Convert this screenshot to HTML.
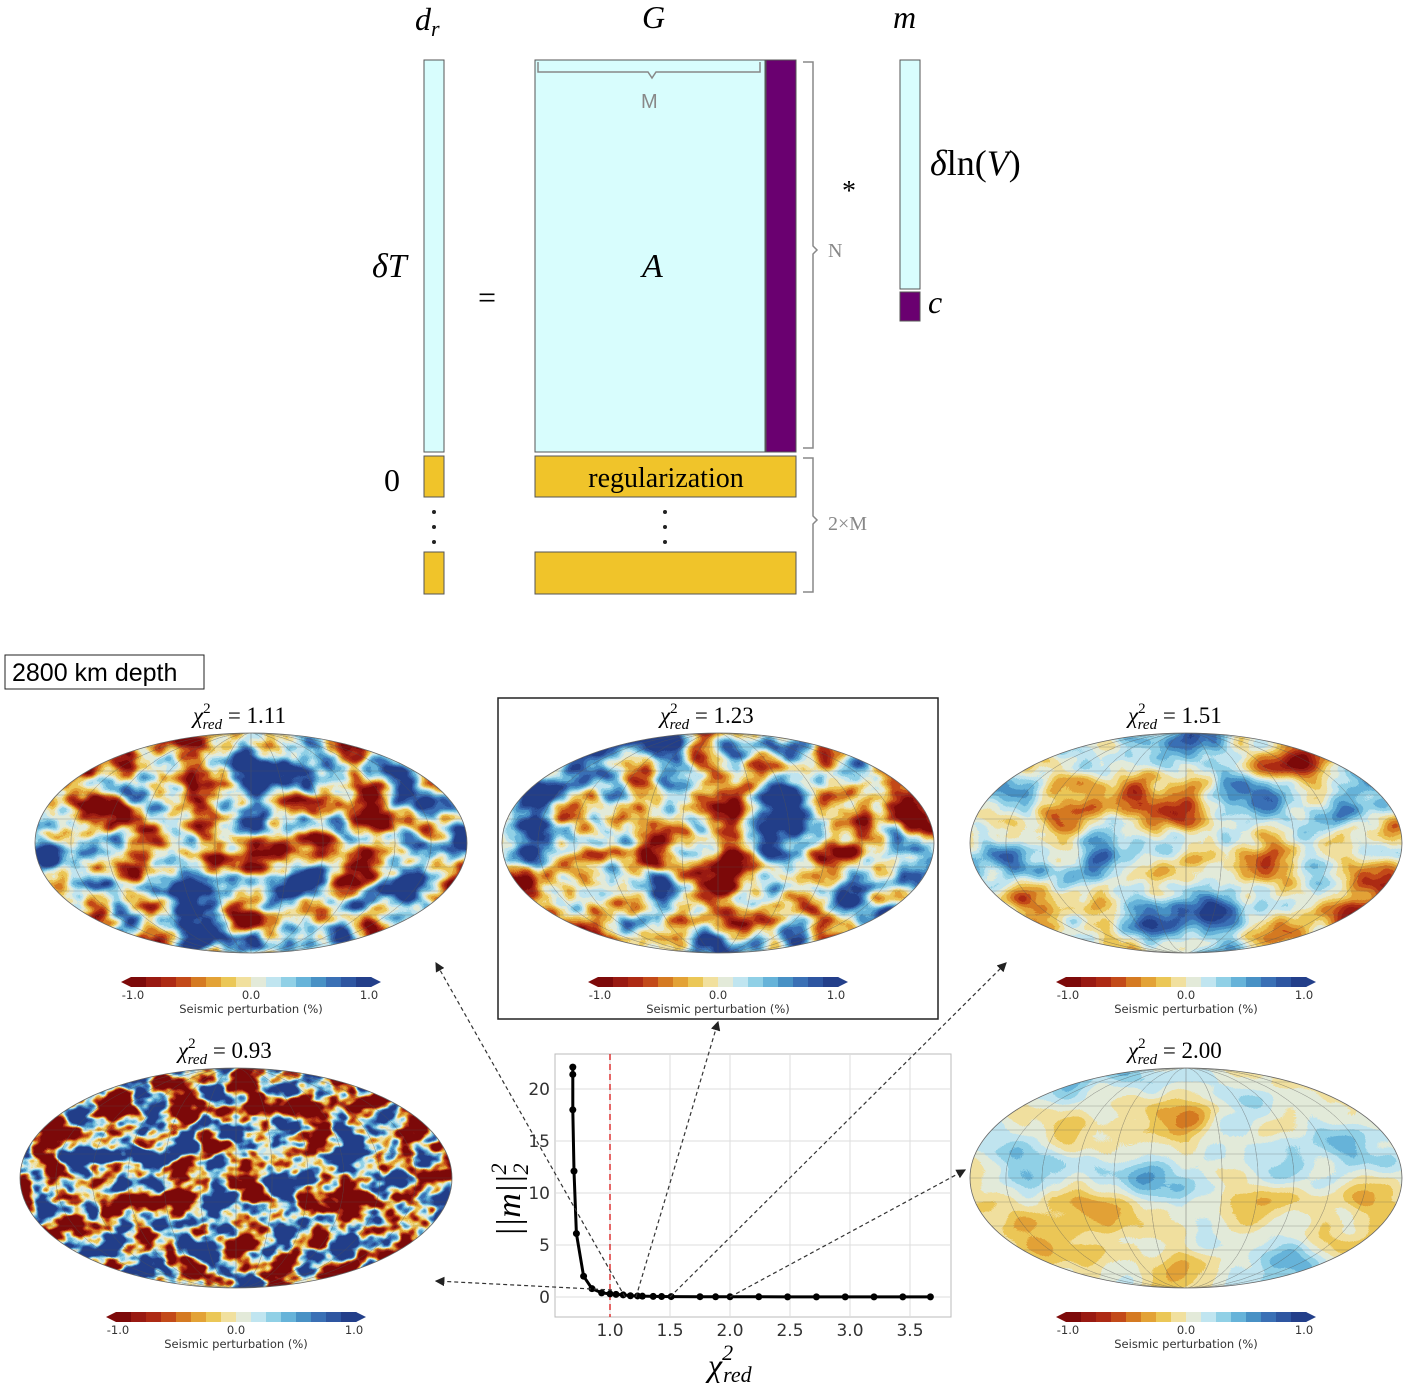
<!DOCTYPE html>
<html><head><meta charset="utf-8">
<style>
body{margin:0;background:#fff;}
#root{position:relative;width:1403px;height:1393px;overflow:hidden;font-family:"Liberation Serif",serif;}
.cb-lbl{font-family:"DejaVu Sans","Liberation Sans",sans-serif;font-size:11.5px;fill:#333;}
</style></head>
<body>
<div id="root">
<svg id="svg" width="1403" height="1393" style="position:absolute;left:0;top:0">
<defs id="defs"></defs>
<g font-family="Liberation Serif, serif" font-style="italic">
  <text x="415" y="30" font-size="32">d<tspan font-size="22" dy="6">r</tspan></text>
  <text x="642" y="28" font-size="32">G</text>
  <text x="893" y="28" font-size="32">m</text>
  <rect x="424" y="60" width="20" height="392" fill="#d8fdfd" stroke="#555"/>
  <text x="372" y="277" font-size="34">δT</text>
  <rect x="424" y="456" width="20" height="41" fill="#f0c42a" stroke="#555"/>
  <rect x="424" y="552" width="20" height="42" fill="#f0c42a" stroke="#555"/>
  <text x="384" y="491" font-size="32" font-style="normal">0</text>
  <text x="478" y="308" font-size="32" font-style="normal">=</text>
  <rect x="535" y="60" width="230" height="392" fill="#d8fdfd" stroke="#555"/>
  <rect x="766" y="60" width="30" height="392" fill="#6a0070" stroke="#555"/>
  <text x="642" y="277" font-size="34">A</text>
  <path d="M538 62 v10 h110 l4 6 l4 -6 h104 v-10" fill="none" stroke="#888" stroke-width="1.5"/>
  <text x="641" y="108" font-size="20" font-style="normal" font-family="Liberation Sans, sans-serif" fill="#888">M</text>
  <path d="M803 62 h10 v184 l4 4 l-4 4 v194 h-10" fill="none" stroke="#888" stroke-width="1.5"/>
  <text x="828" y="257" font-size="20" font-style="normal" fill="#888">N</text>
  <text x="842" y="200" font-size="28" font-style="normal">*</text>
  <rect x="535" y="456" width="261" height="41" fill="#f0c42a" stroke="#555"/>
  <text x="666" y="487" font-size="28" font-style="normal" text-anchor="middle">regularization</text>
  <rect x="535" y="552" width="261" height="42" fill="#f0c42a" stroke="#555"/>
  <path d="M803 458 h10 v58 l4 4 l-4 4 v68 h-10" fill="none" stroke="#888" stroke-width="1.5"/>
  <text x="828" y="530" font-size="20" font-style="normal" fill="#888">2×M</text>
  <g fill="#222">
    <circle cx="434" cy="512" r="2"/><circle cx="434" cy="527" r="2"/><circle cx="434" cy="542" r="2"/>
    <circle cx="665" cy="512" r="2"/><circle cx="665" cy="527" r="2"/><circle cx="665" cy="542" r="2"/>
  </g>
  <rect x="900" y="60" width="20" height="229" fill="#d8fdfd" stroke="#555"/>
  <rect x="900" y="292" width="20" height="29" fill="#6a0070" stroke="#555"/>
  <text x="930" y="175" font-size="36">δ<tspan font-style="normal">ln(</tspan>V<tspan font-style="normal">)</tspan></text>
  <text x="928" y="313" font-size="32">c</text>
</g>
<rect x="5" y="655" width="199" height="34" fill="#fff" stroke="#222"/>
<text x="12" y="681" font-size="25" font-family="Liberation Sans, sans-serif">2800 km depth</text>
<rect x="498" y="698" width="440" height="321" fill="none" stroke="#222" stroke-width="1.5"/>
<g id="maps"></g>
<g id="chart"></g>
<g id="arrows"></g>
</svg>
</div>
<script>
// ---- L-curve data ----
const chiValues = [0.69,0.69,0.69,0.70,0.72,0.78,0.85,0.93,1.00,1.05,1.11,1.17,1.23,1.27,1.36,1.43,1.51,1.75,1.88,2.00,2.24,2.48,2.72,2.96,3.20,3.44,3.67];
const normValues = [22.1,21.4,18.0,12.1,6.1,2.0,0.8,0.4,0.3,0.25,0.2,0.12,0.1,0.08,0.06,0.05,0.04,0.03,0.02,0.02,0.02,0.01,0.01,0.01,0.01,0.01,0.01];
const xTicks = [1.0,1.5,2.0,2.5,3.0,3.5];
const yTicks = [0,5,10,15,20];
const mapTitles = ["1.11","1.23","1.51","0.93","2.00"];

const NS='http://www.w3.org/2000/svg';
function mk(tag,attrs,parent){const e=document.createElementNS(NS,tag);for(const k in attrs)e.setAttribute(k,attrs[k]);if(parent)parent.appendChild(e);return e;}
const X0=555,X1=951,Y0=1054,Y1=1317;
const xs=v=>610+(v-1.0)*120;
const ys=v=>1297-v*10.4;
const chart=document.getElementById('chart');


mk('rect',{x:X0,y:Y0,width:X1-X0,height:Y1-Y0,fill:'#fff',stroke:'#bbb'},chart);
xTicks.forEach(t=>{
  mk('line',{x1:xs(t),x2:xs(t),y1:Y0,y2:Y1,stroke:'#ddd'},chart);
  const tx=mk('text',{x:xs(t),y:1336,'text-anchor':'middle','font-size':17,'font-family':'DejaVu Sans, sans-serif',fill:'#333'},chart);
  tx.textContent=t.toFixed(1);
  
  
});
yTicks.forEach(t=>{
  mk('line',{x1:X0,x2:X1,y1:ys(t),y2:ys(t),stroke:'#ddd'},chart);
  const tx=mk('text',{x:550,y:ys(t)+6,'text-anchor':'end','font-size':17,'font-family':'DejaVu Sans, sans-serif',fill:'#333'},chart);
  tx.textContent=t;
  
  
});
const ref=mk('line',{x1:xs(1.0),x2:xs(1.0),y1:Y0,y2:Y1,stroke:'#d33','stroke-dasharray':'6,4','stroke-width':1.5},chart);


const line=mk('polyline',{points:chiValues.map((c,i)=>xs(c)+','+ys(normValues[i])).join(' '),fill:'none',stroke:'#000','stroke-width':3},chart);


chiValues.forEach((c,i)=>{
  const p=mk('circle',{cx:xs(c),cy:ys(normValues[i]),r:3.5,fill:'#000'},chart);
  
  
});
const xl=mk('text',{x:708,y:1376,'font-size':32,'font-style':'italic','font-family':'Liberation Serif, serif'},chart);
xl.innerHTML='χ<tspan font-size="22" dy="-16">2</tspan><tspan font-size="22" dx="-10" dy="22">red</tspan>';


const yl=mk('text',{x:0,y:0,'text-anchor':'middle','font-size':34,'font-style':'italic','font-family':'Liberation Serif, serif',transform:'translate(520,1200) rotate(-90)'},chart);
yl.innerHTML='||m||<tspan font-size="22" dy="-14">2</tspan><tspan font-size="22" dx="-11" dy="22">2</tspan>';



// ---- maps ----
const cmap=['#7d0a0a','#991a12','#ad2a14','#c34a19','#d57a22','#e3a236','#ebc757','#f1e09e','#e3ead9','#c0e5f0','#90d0e6','#66b3d9','#4891c5','#3a70b5','#2e56a1','#233f8a'];
const defs=document.getElementById('defs');
const hex=(h,o)=>parseInt(h.substr(o,2),16)/255;
const tabR=cmap.map(c=>hex(c,1).toFixed(3)).join(' ');
const tabG=cmap.map(c=>hex(c,3).toFixed(3)).join(' ');
const tabB=cmap.map(c=>hex(c,5).toFixed(3)).join(' ');
const mapSpecs=[
 {cx:251,cy:843,freq:0.018,k:2.5,off:0.0,seed:3},
 {cx:718,cy:843,freq:0.016,k:2.4,off:0.0,seed:3},
 {cx:1186,cy:843,freq:0.012,k:1.5,off:0.02,seed:5},
 {cx:236,cy:1178,freq:0.03,k:4.0,off:0.0,seed:9},
 {cx:1186,cy:1178,freq:0.009,k:0.8,off:0.02,seed:5}
];
const maps=document.getElementById('maps');
mapSpecs.forEach((s,i)=>{
  const f=mk('filter',{id:'nf'+i,x:0,y:0,width:1,height:1,'color-interpolation-filters':'sRGB'},defs);
  mk('feTurbulence',{type:'fractalNoise',baseFrequency:s.freq+' '+(s.freq*1.4),numOctaves:3,seed:s.seed},f);
  const ct=mk('feComponentTransfer',{},f);
  mk('feFuncR',{type:'linear',slope:s.k,intercept:(0.5-0.5*s.k+s.off)},ct);
  mk('feColorMatrix',{type:'matrix',values:'1 0 0 0 0  1 0 0 0 0  1 0 0 0 0  0 0 0 0 1'},f);
  const ct2=mk('feComponentTransfer',{},f);
  mk('feFuncR',{type:'discrete',tableValues:tabR},ct2);
  mk('feFuncG',{type:'discrete',tableValues:tabG},ct2);
  mk('feFuncB',{type:'discrete',tableValues:tabB},ct2);
  const cp=mk('clipPath',{id:'cp'+i},defs);
  mk('ellipse',{cx:s.cx,cy:s.cy,rx:216,ry:110},cp);
  const g=mk('g',{},maps);
  
  
  mk('rect',{x:s.cx-216,y:s.cy-110,width:432,height:220,filter:'url(#nf'+i+')','clip-path':'url(#cp'+i+')'},g);
  const gr=mk('g',{'clip-path':'url(#cp'+i+')',stroke:'#555','stroke-width':0.5,fill:'none',opacity:0.5},g);
  for(let k=-5;k<=5;k++){mk('ellipse',{cx:s.cx,cy:s.cy,rx:Math.abs(k)*216/6+0.1,ry:110},gr);}
  for(let k=-4;k<=4;k++){mk('line',{x1:s.cx-216,x2:s.cx+216,y1:s.cy+k*24,y2:s.cy+k*24},gr);}
  mk('ellipse',{cx:s.cx,cy:s.cy,rx:216,ry:110,fill:'none',stroke:'#666','stroke-width':0.8},g);
  const t=mk('text',{x:s.cx-58,y:s.cy-120,'font-size':23,'font-family':'Liberation Serif, serif'},g);
  t.innerHTML='<tspan font-style="italic">χ</tspan><tspan font-size="15" dy="-10">2</tspan><tspan font-size="15" font-style="italic" dx="-8" dy="16">red</tspan><tspan dy="-6"> = '+mapTitles[i]+'</tspan>';
  
  
  const cb=mk('g',{},g);
  
  
  const bx=s.cx-120,by=s.cy+134,bw=240,bh=10,sw=bw/cmap.length;
  mk('polygon',{points:(bx-10)+','+(by+5)+' '+bx+','+by+' '+bx+','+(by+bh),fill:cmap[0]},cb);
  mk('polygon',{points:(bx+bw+10)+','+(by+5)+' '+(bx+bw)+','+by+' '+(bx+bw)+','+(by+bh),fill:cmap[15]},cb);
  cmap.forEach((c,j)=>mk('rect',{x:bx+j*sw,y:by,width:sw+0.5,height:bh,fill:c},cb));
  [[-1,'-1.0'],[0,'0.0'],[1,'1.0']].forEach(([v,l])=>{const tt=mk('text',{x:s.cx+v*118,y:by+22,'text-anchor':'middle',class:'cb-lbl'},cb);tt.textContent=l;});
  const cl=mk('text',{x:s.cx,y:by+36,'text-anchor':'middle',class:'cb-lbl'},cb);cl.textContent='Seismic perturbation (%)';
});

// ---- arrows ----
const arrows=document.getElementById('arrows');
mk('marker',{id:'ah',markerWidth:8,markerHeight:8,refX:7,refY:4,orient:'auto'},defs).appendChild(mk('path',{d:'M0,0 L8,4 L0,8 z',fill:'#222'}));
[[625,1297,436,963],[636,1297,718,1022],[670,1297,1006,963],[730,1297,965,1170],[612,1290,436,1281]].forEach(a=>{
  const l=mk('line',{x1:a[0],y1:a[1],x2:a[2],y2:a[3],stroke:'#333','stroke-width':1.2,'stroke-dasharray':'4,3','marker-end':'url(#ah)'},arrows);
  
  
});
</script>
</body></html>
